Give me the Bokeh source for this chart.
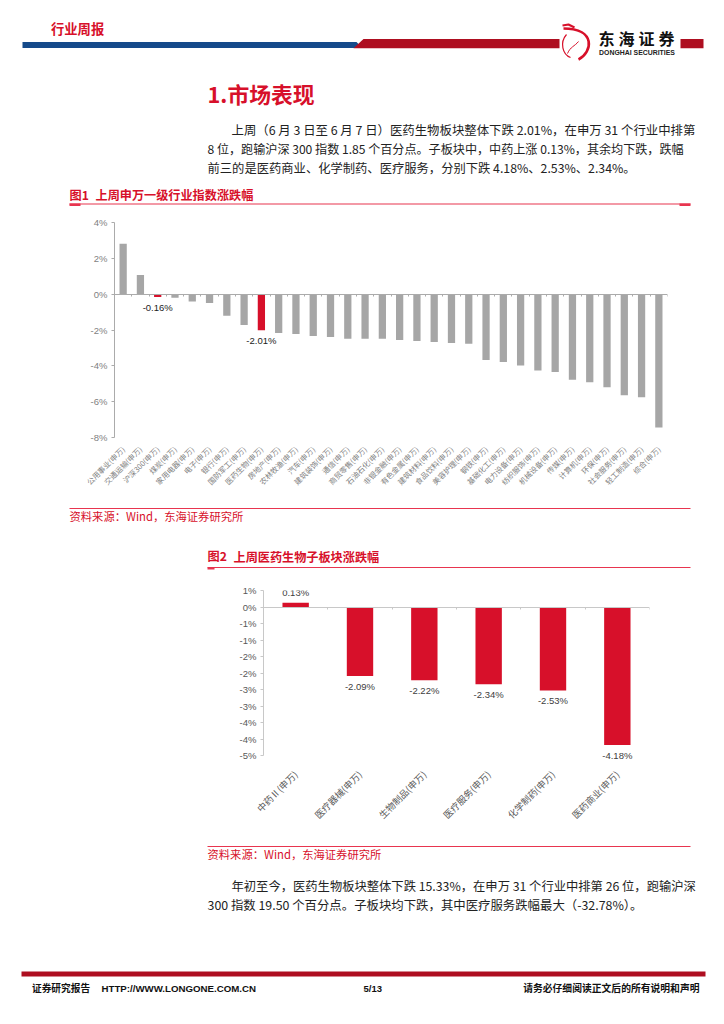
from bokeh.plotting import figure
from bokeh.layouts import column
from bokeh.models import FixedTicker, LinearAxis, ColumnDataSource, LabelSet
from bokeh.core.properties import value
from bokeh.embed import file_html
from bokeh.resources import INLINE

CJK = "Noto Sans CJK SC"
LAT = "Liberation Sans"
RED = "#D7102A"
RULE = "#E8354F"
DARK_RED = "#AE0E20"
BLUE = "#154A8A"

# ---- chart data
ind_names = ["公用事业", "交通运输", "沪深300", "煤炭", "家用电器", "电子", "银行", "国防军工",
             "医药生物", "房地产", "农林牧渔", "汽车", "建筑装饰", "通信", "商贸零售", "石油石化",
             "非银金融", "有色金属", "建筑材料", "食品饮料", "美容护理", "钢铁", "基础化工", "电力设备",
             "纺织服饰", "机械设备", "传媒", "计算机", "环保", "社会服务", "轻工制造", "综合"]
ind_values = [2.82, 1.07, -0.16, -0.20, -0.41, -0.49, -1.20, -1.72,
              -2.01, -2.17, -2.22, -2.34, -2.39, -2.49, -2.49, -2.49,
              -2.56, -2.62, -2.67, -2.73, -2.77, -3.68, -3.79, -3.98,
              -4.26, -4.34, -4.77, -4.92, -5.20, -5.64, -5.76, -7.44]
ind_highlight = ["沪深300", "医药生物"]
ind_ticks = [4, 2, 0, -2, -4, -6, -8]

sub_names = ["中药Ⅱ", "医疗器械", "生物制品", "医疗服务", "化学制药", "医药商业"]
sub_values = [0.13, -2.09, -2.22, -2.34, -2.53, -4.18]
sub_ticks = [0.5, 0, -0.5, -1, -1.5, -2, -2.5, -3, -3.5, -4, -4.5]
sub_tick_labels = ["1%", "0%", "-1%", "-1%", "-2%", "-2%", "-3%", "-3%", "-4%", "-4%", "-5%"]

# ---- page text
body_top = ["上周\uff086 月 3 日至 6 月 7 日\uff09医药生物板块整体下跌 2.01%\uff0c在申万 31 个行业中排第",
            "8 位\uff0c跑输沪深 300 指数 1.85 个百分点。子板块中\uff0c中药上涨 0.13%\uff0c其余均下跌\uff0c跌幅",
            "前三的是医药商业、化学制药、医疗服务\uff0c分别下跌 4.18%、2.53%、2.34%。"]
body_bottom = ["年初至今\uff0c医药生物板块整体下跌 15.33%\uff0c在申万 31 个行业中排第 26 位\uff0c跑输沪深",
               "300 指数 19.50 个百分点。子板块均下跌\uff0c其中医疗服务跌幅最大\uff08-32.78%\uff09。"]
source_text = "资料来源\uff1aWind\uff0c东海证券研究所"


def sheet(top, bottom):
    p = figure(width=708, height=bottom - top, x_range=(0, 708), y_range=(bottom, top),
               output_backend="svg", toolbar_location=None, min_border=0,
               outline_line_color=None, x_axis_type=None, y_axis_type=None, frame_align=False)
    p.grid.visible = False
    return p


def put(p, x, y, s, size, color="#222222", font=CJK, style="normal", align="left"):
    p.text([x], [y], text=[s], text_font=value(font), text_font_size=f"{size}px",
           text_font_style=style, text_color=color, text_align=align, text_baseline="middle")


def rule(p, x0, x1, y):
    p.line([x0, x1], [y, y], line_color=RULE, line_width=1.2)


def chart(top, bottom, vert, horiz, y0, y1, names, values, colors, ticks, overrides,
          bw, label_idx, label_fmt, label_color, fs, label_offsets, lab_color, tick_color,
          standoff, bounds):
    n = len(names)
    p = figure(width=708, height=bottom - top, x_range=(0, n), y_range=(y0, y1),
               output_backend="svg", toolbar_location=None, outline_line_color=None,
               min_border_top=vert[0], min_border_bottom=vert[1],
               min_border_left=horiz[0], min_border_right=horiz[1], x_axis_location="below",
               frame_align=False)
    p.grid.visible = False
    xs = [i + 0.5 for i in range(n)]
    src = ColumnDataSource(dict(x=xs, v=values, c=colors))
    p.vbar(x="x", top="v", bottom=0, width=bw, fill_color="c", line_color=None, source=src)

    ax = p.xaxis[0]
    ax.ticker = FixedTicker(ticks=xs)
    ax.major_label_overrides = {x: f"{nm}(申万)" for x, nm in zip(xs, names)}
    ax.major_label_orientation = 0.785398
    ax.major_label_text_font = CJK
    ax.major_label_text_font_size = f"{fs}px"
    ax.major_label_text_color = lab_color
    ax.axis_line_color = None
    ax.major_tick_line_color = None
    ax.minor_tick_line_color = None
    ax.major_label_standoff = standoff

    zero = LinearAxis(fixed_location=0, ticker=FixedTicker(ticks=list(range(n + 1))))
    zero.major_label_text_font_size = "0px"
    zero.major_label_text_color = None
    zero.axis_line_color = tick_color
    zero.major_tick_line_color = tick_color
    zero.major_tick_in = 0
    zero.major_tick_out = 2
    zero.minor_tick_line_color = None
    p.add_layout(zero, "below")

    ay = p.yaxis[0]
    ay.ticker = FixedTicker(ticks=ticks)
    ay.bounds = bounds
    ay.major_label_overrides = overrides
    ay.major_label_text_font = LAT
    ay.major_label_text_font_size = "9.5px"
    ay.major_label_text_color = lab_color
    ay.axis_line_color = tick_color
    ay.major_tick_line_color = tick_color
    ay.major_tick_in = 0
    ay.major_tick_out = 3
    ay.minor_tick_line_color = None
    ay.major_label_standoff = 4

    lab = ColumnDataSource(dict(
        x=[xs[i] for i in label_idx],
        y=[values[i] for i in label_idx],
        t=[label_fmt(values[i]) for i in label_idx],
        o=[label_offsets[i] for i in label_idx],
    ))
    p.add_layout(LabelSet(x="x", y="y", text="t", y_offset="o", source=lab, text_align="center",
                          text_baseline="middle", text_font=value(LAT), text_font_size="9.5px",
                          text_color=label_color))
    return p


# ---- section A: header, intro, figure 1 title
a = sheet(0, 212)
put(a, 50.5, 27.5, "行业周报", 13.3, RED, style="bold")
a.patch([22, 356, 362, 22], [41.5, 41.5, 47.5, 47.5], fill_color=BLUE, line_color=None)
a.patch([353, 363, 559, 559], [47.7, 38.5, 38.5, 47.7], fill_color=DARK_RED, line_color=None)
a.quad(left=[680], right=[703], top=[38.5], bottom=[47.7], fill_color=DARK_RED, line_color=None)
# logo
a.bezier(x0=[563], y0=[28], x1=[578], y1=[59], cx0=[596], cy0=[28], cx1=[592], cy1=[52],
         line_color="#D7102A", line_width=2.6)
a.bezier(x0=[566], y0=[34], x1=[570], y1=[57], cx0=[559], cy0=[42], cx1=[562], cy1=[54],
         line_color="#D7102A", line_width=1.2)
a.bezier(x0=[567], y0=[53], x1=[578], y1=[41], cx0=[570], cy0=[46], cx1=[574], cy1=[46],
         line_color="#D7102A", line_width=1.0)
a.line([562, 568, 574], [25, 24, 27], line_color="#D7102A", line_width=2.2)
for cx, ch in zip([606, 626, 646, 666], "东海证券"):
    put(a, cx, 37.5, ch, 16, "#111111", style="bold", align="center")
put(a, 636.5, 52, "DONGHAI SECURITIES", 6.9, "#222222", LAT, "bold", "center")
put(a, 207, 93, "1.市场表现", 21.8, RED, style="bold")
put(a, 231, 129, body_top[0], 12.4)
put(a, 207, 148, body_top[1], 12.1)
put(a, 207, 167, body_top[2], 12.3)
put(a, 69, 194, "图1", 12.2, RED, style="bold")
put(a, 95, 194, "上周申万一级行业指数涨跌幅", 12.15, RED, style="bold")
rule(a, 69, 690, 203.5)
a.quad(left=[69, 679], right=[80, 690], top=[203, 203], bottom=[205.5, 205.5], fill_color=RULE, line_color=None)

# ---- chart 1
ind_colors = [RED if nm in ind_highlight else "#A6A6A6" for nm in ind_names]
ind_offsets = [-10 if v < 0 else 10 for v in ind_values]
b = chart(212, 503, (10, 66), (114, 41), -8, 4, ind_names, ind_values, ind_colors,
          ind_ticks, {t: f"{t}%" for t in ind_ticks}, 0.42,
          [i for i, nm in enumerate(ind_names) if nm in ind_highlight],
          lambda v: f"{v:.2f}%", "#222222", 7.5, ind_offsets, "#7F7F7F", "#ABABAB", 4, (-8, 4))

# ---- section C: source 1, figure 2 title
c = sheet(503, 580)
rule(c, 69, 690, 508)
put(c, 69, 515.5, source_text, 11.3, RED)
put(c, 207, 555.5, "图2", 12.2, RED, style="bold")
put(c, 233, 555.5, "上周医药生物子板块涨跌幅", 12.15, RED, style="bold")
rule(c, 207, 690, 567)
c.quad(left=[207], right=[214], top=[567], bottom=[569], fill_color=RULE, line_color=None)

# ---- chart 2
sub_offsets = [-10 if v < 0 else 10 for v in sub_values]
d = chart(580, 838, (10, 73), (263, 59), -4.8, 0.5, sub_names, sub_values, [RED] * len(sub_names),
          sub_ticks, dict(zip(sub_ticks, sub_tick_labels)), 0.41,
          list(range(len(sub_names))), lambda v: f"{v:.2f}%", "#404040", 9.3, sub_offsets,
          "#595959", "#C8C8C8", 1, (-4.5, 0.5))

# ---- section E: source 2, closing text, footer
e = sheet(838, 1008)
rule(e, 207, 690, 846)
put(e, 207, 853.5, source_text, 11.3, RED)
put(e, 231, 885, body_bottom[0], 12.3)
put(e, 207, 904, body_bottom[1], 12.4)
e.quad(left=[21], right=[705], top=[971], bottom=[976], fill_color=DARK_RED, line_color=None)
put(e, 31.5, 987, "证券研究报告", 9.7, "#111111", style="bold")
put(e, 101, 988, "HTTP://WWW.LONGONE.COM.CN", 9.7, "#111111", LAT, "bold")
put(e, 363, 988, "5/13", 9.5, "#111111", LAT, "bold")
put(e, 699, 987, "请务必仔细阅读正文后的所有说明和声明", 9.8, "#111111", style="bold", align="right")

page = column(a, b, c, d, e, spacing=0)
open("out.html", "w").write(file_html(page, INLINE))
